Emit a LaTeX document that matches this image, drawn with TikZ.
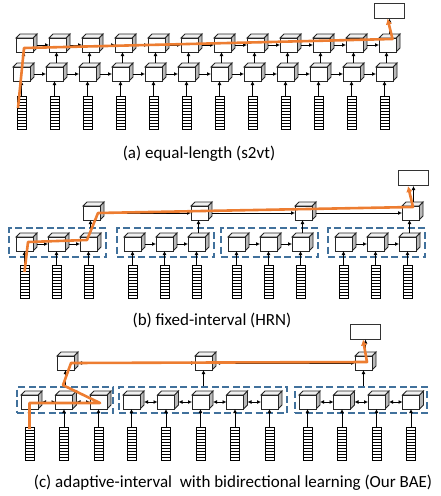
\documentclass[tikz,border=0pt]{standalone}
\usepackage{fontspec}
\setmainfont{Carlito}
\usetikzlibrary{arrows.meta, positioning}

\definecolor{traceorange}{RGB}{237,125,49}
\definecolor{grpblue}{RGB}{65,113,156}

\tikzset{
  cell/.style={draw=black!85, fill=white, line width=0.9pt, minimum width=17pt, minimum height=14pt,
    inner sep=0pt, outer sep=0pt,
    append after command={\pgfextra{
      \draw[draw=black!85, line width=0.9pt, fill=gray!55] (\tikzlastnode.north east) -- ++(4pt,4pt)
        -- ++(0,-14pt) -- (\tikzlastnode.south east) -- cycle;
      \draw[draw=black!85, line width=0.9pt, fill=gray!12] (\tikzlastnode.north west) -- ++(4pt,4pt)
        -- ++(17pt,0) -- (\tikzlastnode.north east) -- cycle;
    }}},
  feat/.style={draw=black, line width=1pt, fill=white, minimum width=9pt, minimum height=33pt,
    inner sep=0pt, outer sep=0pt,
    path picture={\foreach \k in {1,...,10}
      \draw[line width=0.7pt] ([yshift=\k*3pt]path picture bounding box.south west)
        -- ([yshift=\k*3pt]path picture bounding box.south east);}},
  outbox/.style={draw=black!80, line width=1pt, fill=white, minimum width=30pt, minimum height=15pt, inner sep=0pt},
  grp/.style={draw=grpblue, line width=1.7pt, dash pattern=on 7pt off 3.5pt, inner sep=0pt},
  arr/.style={-{Latex[length=4pt,width=4pt]}, line width=1pt},
  biarr/.style={{Latex[length=4pt,width=4pt]}-{Latex[length=4pt,width=4pt]}, line width=1pt},
  trace/.style={draw=traceorange, line width=2.6pt, line join=round, -{Latex[length=6pt,width=6.5pt]}},
  captxt/.style={font=\fontsize{17}{20}\selectfont, inner sep=0pt}
}

\begin{document}
\begin{tikzpicture}[x=1pt, y=-1pt]
\useasboundingbox (0,0) rectangle (441,496);

% (a) equal-length: two stacked rows over every frame
\foreach \i in {1,...,12} {
  \node[feat] (fa\i) at ({21.5+33*(\i-1)},112.5) {};
  \node[cell] (ca\i) at ({21.5+33*(\i-1)},74) {};
  \node[cell] (ta\i) at ({24.5+33*(\i-1)},45) {};
  \draw[arr] (fa\i.north) -- (ca\i.south);
  \draw[arr] ([xshift=2pt,yshift=4pt]ca\i.north) -- ([xshift=-1pt]ta\i.south);
}
\foreach \i [count=\j from 2] in {1,...,11} {
  \draw[arr] ([xshift=4pt]ca\i.east) -- (ca\j.west);
  \draw[arr] ([xshift=4pt]ta\i.east) -- (ta\j.west);
}
\node[outbox] (outa) at (389.5,10.5) {};
\draw[arr] ([xshift=2pt,yshift=4pt]ta12.north) -- (outa.south);
\node[captxt] (capa) at (199,154) {(a) equal-length (s2vt)};

% (b) fixed-interval: groups of three frames
\foreach \g/\m in {1/56.5, 2/164.5, 3/268.5, 4/375.5} {
  \node[grp, minimum width=97pt, minimum height=29pt] (gb\g) at ({\m+1},242.5) {};
  \foreach \k/\dx in {1/-32, 2/0, 3/32} {
    \node[feat] (fb\g\k) at ({\m+\dx},281.5) {};
    \node[cell] (cb\g\k) at ({\m+\dx},244) {};
    \draw[arr] (fb\g\k.north) -- (cb\g\k.south);
  }
  \draw[arr] ([xshift=4pt]cb\g1.east) -- (cb\g2.west);
  \draw[arr] ([xshift=4pt]cb\g2.east) -- (cb\g3.west);
  \node[cell] (tb\g) at ({\m+35},213) {};
  \draw[arr] ([xshift=2pt,yshift=4pt]cb\g3.north) -- ([xshift=-1pt]tb\g.south);
}
\foreach \i [count=\j from 2] in {1,...,3}
  \draw[arr] ([xshift=4pt]tb\i.east) -- (tb\j.west);
\node[outbox] (outb) at (413.5,178) {};
\draw[arr] ([xshift=3pt,yshift=4pt]tb4.north) -- (outb.south);
\node[captxt] (capb) at (212,320) {(b) fixed-interval (HRN)};

% (c) adaptive-interval, bidirectional inside each group
\node[grp, minimum width=96pt, minimum height=26pt] (gc1) at (65,400) {};
\node[grp, minimum width=168pt, minimum height=26pt] (gc2) at (203,400) {};
\node[grp, minimum width=132pt, minimum height=26pt] (gc3) at (361,400) {};
\foreach \g/\x/\n in {1/29.5/3, 2/131.5/5, 3/307.5/4} {
  \foreach \k in {1,...,\n} {
    \node[feat] (fc\g\k) at ({\x+34.5*(\k-1)},443.5) {};
    \node[cell] (cc\g\k) at ({\x+34.5*(\k-1)},402) {};
    \draw[arr] (fc\g\k.north) -- (cc\g\k.south);
  }
  \pgfmathtruncatemacro{\last}{\n-1}
  \foreach \k [count=\l from 2] in {1,...,\last}
    \draw[biarr] ([xshift=4pt]cc\g\k.east) -- (cc\g\l.west);
}
\foreach \g/\x in {1/65.5, 2/203.5, 3/363.5} {
  \node[cell] (tc\g) at (\x,363) {};
  \draw[arr] (tc\g.south |- gc\g.north) -- (tc\g.south);
}
\draw[biarr] ([xshift=4pt]tc1.east) -- (tc2.west);
\draw[biarr] ([xshift=4pt]tc2.east) -- (tc3.west);
\node[outbox] (outc) at (365.5,331.5) {};
\draw[arr] ([xshift=2pt,yshift=4pt]tc3.north) -- (outc.south);
\node[captxt] (capc) at (233,483) {(c) adaptive-interval\ \ with bidirectional learning (Our BAE)};

% orange paths through the encoders
\draw[trace] ([xshift=1pt,yshift=-12pt]fa1.north west) -- ([xshift=-0.5pt,yshift=-3pt]ta1.center)
  -- ([xshift=5pt,yshift=6pt]ta12.center) -- ([xshift=-2pt]outa.south);
\draw[trace] ([yshift=-7pt]fb11.north) -- ([xshift=3.5pt,yshift=2pt]cb11.center)
  -- ([xshift=-1.5pt,yshift=4pt]cb13.center) -- ([xshift=6.5pt]tb1.center)
  -- ([xshift=2.5pt,yshift=6pt]tb4.center) -- ([xshift=-5.5pt]outb.south);
\draw[trace] ([yshift=-2pt]fc11.north) -- ([yshift=-1pt]cc11.center)
  -- ([xshift=1.5pt,yshift=-1pt]cc13.center) -- ([xshift=-2pt,yshift=1pt]gc1.north)
  -- ([xshift=5.5pt]tc1.center) -- ([xshift=3.5pt,yshift=1pt]tc3.center) -- ([xshift=-2.5pt]outc.south);
\end{tikzpicture}
\end{document}
